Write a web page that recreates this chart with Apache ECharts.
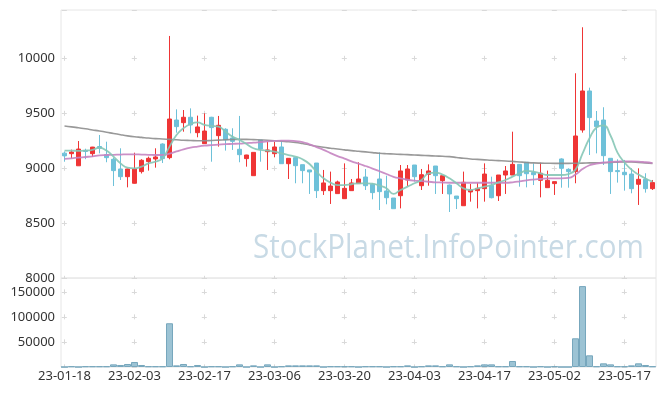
<!DOCTYPE html>
<html><head><meta charset="utf-8">
<script src="https://cdn.jsdelivr.net/npm/echarts/dist/echarts.min.js"></script>
<style>html,body{margin:0;padding:0;background:#fff}#c{width:665px;height:396px}</style>
</head><body><div id="c"></div>
<script>
const dates = ['23-01-18','23-01-19','23-01-20','23-01-25','23-01-26','23-01-27','23-01-30','23-01-31',
'23-02-01','23-02-02','23-02-03','23-02-06','23-02-07','23-02-08','23-02-09','23-02-10','23-02-13','23-02-14','23-02-15','23-02-16','23-02-17',
'23-02-20','23-02-21','23-02-22','23-02-23','23-02-24','23-02-27','23-02-28',
'23-03-02','23-03-03','23-03-06','23-03-07','23-03-08','23-03-09','23-03-10','23-03-13','23-03-14','23-03-15','23-03-16','23-03-17',
'23-03-20','23-03-21','23-03-22','23-03-23','23-03-24','23-03-27','23-03-28','23-03-29','23-03-30','23-03-31',
'23-04-03','23-04-04','23-04-05','23-04-06','23-04-07','23-04-10','23-04-11','23-04-12','23-04-13','23-04-14',
'23-04-17','23-04-18','23-04-19','23-04-20','23-04-21','23-04-24','23-04-25','23-04-26','23-04-27','23-04-28',
'23-05-02','23-05-03','23-05-04','23-05-08','23-05-09','23-05-10','23-05-11','23-05-12','23-05-15','23-05-16',
'23-05-17','23-05-18','23-05-19','23-05-22','23-05-23'];

const opens  = [9135,9130,9020,9160,9130,9195,9121,9079,8991,8921,8861,8967,9058,9082,9218,9094,9436,9412,9461,9321,
9221,9461,9294,9352,9273,9170,9085,8930,9255,9148,9130,9191,9039,9094,9030,8982,9045,8794,8794,8767,
8721,8794,8858,8918,8852,8900,8791,8727,8748,8891,9027,8839,8942,9018,8885,8845,8745,8657,8782,8794,
8812,8842,8748,8936,8936,9033,9052,8958,8888,8821,8858,9082,8988,8967,9345,9700,9427,9436,9088,8976,
8961,8945,8852,8897,8812];
const closes = [9110,9145,9172,9150,9190,9180,9094,8976,8921,8991,8991,9070,9088,9100,9085,9445,9376,9461,9391,9373,
9336,9367,9388,9255,9242,9121,9118,9142,9173,9164,9191,9039,9088,9021,8976,8964,8794,8864,8836,8873,
8815,8864,8900,8839,8776,8785,8730,8630,8973,8991,8921,8939,8973,8930,8930,8764,8721,8870,8800,8815,
8945,8730,8936,8973,9033,8930,8948,8939,8952,8888,8876,8997,8967,9291,9700,9458,9376,9112,8967,8967,
8939,8812,8897,8812,8867];
const lows   = [9057,9088,9018,9080,9100,9133,9052,8836,8891,8824,8858,8950,8976,9003,9045,9079,9321,9330,9315,9279,
9218,9057,9194,9158,9164,9052,9012,8930,9057,8982,9097,9039,8900,8861,8861,8764,8727,8755,8673,8767,
8721,8794,8858,8800,8715,8618,8670,8630,8633,8836,8876,8800,8839,8764,8764,8600,8627,8657,8694,8633,
8694,8724,8700,8764,8936,8830,8824,8845,8733,8821,8755,8821,8821,8861,9321,9118,9133,9027,8764,8867,
8794,8770,8664,8776,8800];
const highs  = [9150,9167,9245,9175,9192,9300,9239,9094,9179,8995,9139,9080,9103,9179,9224,10200,9533,9527,9542,9476,
9497,9465,9473,9361,9361,9473,9120,9142,9255,9239,9239,9239,9088,9094,9030,8982,9045,8982,8967,8885,
9042,8900,9052,8991,8860,9142,8930,8727,9027,9027,9027,8991,9033,9018,8930,8850,8745,8967,8855,8867,
9042,8921,8936,9018,9330,9033,9052,9042,9048,8976,8876,9088,8997,9861,10279,9730,9518,9552,9088,9079,
9073,8997,8997,8952,8891];

const volumes = [0,1300,0,1300,1300,1300,1300,5300,4000,6000,10000,4000,1300,1300,1300,87300,3300,6000,1300,4000,
0,1300,1300,0,1300,5300,0,3300,0,5300,0,1300,3300,3300,3300,3300,3300,0,1300,1300,
1300,1300,0,1300,1300,1300,0,1300,1300,3300,0,1300,3300,3300,1300,5300,1300,0,1300,3300,
5300,5300,1300,1300,12000,1300,1300,0,1300,0,1300,0,0,57300,161500,23300,1300,7300,5300,1300,
1300,3300,7300,4000,1300];

const ma5 = [9158,9158,9155,9158,9165,9185,9158,9103,9042,9003,8997,9012,9042,9057,9088,9194,9300,9361,9400,9415,
9391,9382,9376,9330,9285,9255,9218,9179,9164,9158,9148,9133,9118,9103,9079,9036,8967,8906,8867,8845,
8845,8852,8861,8861,8858,8839,8815,8764,8800,8830,8861,8891,8952,8958,8940,8906,8861,8815,8800,8815,
8830,8845,8870,8891,8921,8952,8973,8967,8952,8936,8936,8936,8945,8985,9130,9270,9368,9388,9295,9140,
9050,8985,8940,8905,8876];
const ma20 = [9082,9088,9094,9100,9106,9115,9118,9120,9122,9124,9124,9122,9120,9118,9118,9130,9150,9170,9185,9195,
9203,9208,9212,9216,9219,9222,9226,9230,9236,9242,9246,9248,9248,9244,9236,9215,9190,9165,9135,9108,
9085,9060,9040,9018,8995,8970,8945,8920,8905,8893,8885,8880,8875,8870,8868,8866,8866,8866,8866,8866,
8866,8866,8866,8866,8870,8878,8888,8895,8900,8905,8906,8906,8910,8940,8990,9025,9040,9050,9055,9058,
9060,9060,9058,9052,9045];
const ma60 = [9382,9374,9365,9356,9346,9336,9325,9313,9302,9292,9284,9278,9272,9267,9264,9260,9256,9252,9250,9248,
9248,9250,9253,9256,9259,9260,9260,9258,9255,9252,9248,9243,9238,9232,9222,9210,9198,9188,9180,9172,
9165,9158,9152,9146,9140,9134,9130,9127,9124,9121,9118,9115,9112,9109,9106,9103,9096,9088,9082,9078,
9074,9070,9067,9064,9060,9055,9050,9046,9044,9043,9042,9042,9042,9043,9044,9046,9047,9048,9050,9053,
9055,9054,9050,9046,9042];

const watermark = 'StockPlanet.InfoPointer.com';
const FONT = 'Noto Sans';
const RED = '#ef3535', BLUE = '#6ec1d9';
const GRIDC = '#d9d9d9';
const plain = v => String(v);

const candle = dates.map((d, i) => [opens[i], closes[i], lows[i], highs[i]]);

const chart = echarts.init(document.getElementById('c'));
chart.setOption({
  animation: false,
  textStyle: {fontFamily: FONT},
  grid: [
    {left: 61, right: 9, top: 10, height: 268, show: true, borderColor: '#e6e6e6', borderWidth: 1},
    {left: 61, right: 9, top: 278, height: 89, show: true, borderColor: '#e6e6e6', borderWidth: 1}
  ],
  graphic: [{
    type: 'text', left: 253, top: 233, z: 0, silent: true, scaleX: 0.925,
    style: {text: watermark, font: '32px "Open Sans"', fill: '#c8dae5'}
  }],
  xAxis: [
    {type: 'category', gridIndex: 0, data: dates, boundaryGap: true,
     axisLine: {show: false}, axisTick: {show: false}, axisLabel: {show: false},
     splitLine: {show: true, alignWithLabel: true, interval: 9,
       lineStyle: {color: GRIDC, width: 1, type: [5, 50], dashOffset: 9.2}}},
    {type: 'category', gridIndex: 1, data: dates, boundaryGap: true,
     axisLine: {show: false}, axisTick: {show: false},
     axisLabel: {interval: 9, margin: 3, fontSize: 13, color: '#333', fontFamily: FONT},
     splitLine: {show: true, alignWithLabel: true, interval: 9,
       lineStyle: {color: GRIDC, width: 1, type: [5, 20], dashOffset: 13.65}}}
  ],
  yAxis: [
    {type: 'value', gridIndex: 0, min: 8000, max: 10436, interval: 500,
     axisLine: {show: false}, axisTick: {show: false},
     axisLabel: {margin: 6, fontSize: 13, color: '#333', fontFamily: FONT, showMaxLabel: false, formatter: plain},
     splitLine: {lineStyle: {color: GRIDC, width: 1, type: [5, 65], dashOffset: 69.2}}},
    {type: 'value', gridIndex: 1, min: 0, max: v => v.max * 1.1, interval: 50000,
     axisLine: {show: false}, axisTick: {show: false},
     axisLabel: {margin: 6, fontSize: 13, color: '#333', fontFamily: FONT, showMinLabel: false, showMaxLabel: false, formatter: plain},
     splitLine: {lineStyle: {color: GRIDC, width: 1, type: [5, 65], dashOffset: 69.2}}}
  ],
  series: [
    {type: 'candlestick', xAxisIndex: 0, yAxisIndex: 0, data: candle, barWidth: 5,
     itemStyle: {color: RED, color0: BLUE, borderColor: RED, borderColor0: BLUE, borderWidth: 1}},
    {type: 'line', xAxisIndex: 0, yAxisIndex: 0, data: ma60, smooth: true, showSymbol: false, symbol: 'none',
     lineStyle: {color: '#8e8e8e', width: 1.6, opacity: 0.9}},
    {type: 'line', xAxisIndex: 0, yAxisIndex: 0, data: ma20, smooth: true, showSymbol: false, symbol: 'none',
     lineStyle: {color: '#c584c1', width: 1.8, opacity: 0.9}},
    {type: 'line', xAxisIndex: 0, yAxisIndex: 0, data: ma5, smooth: true, showSymbol: false, symbol: 'none',
     lineStyle: {color: '#86c7b6', width: 1.8, opacity: 0.9}},
    {type: 'bar', xAxisIndex: 1, yAxisIndex: 1, data: volumes, barCategoryGap: '0%',
     itemStyle: {color: '#9cc3d4', borderColor: '#77a7bd', borderWidth: 1}}
  ]
});
</script>
</body></html>
